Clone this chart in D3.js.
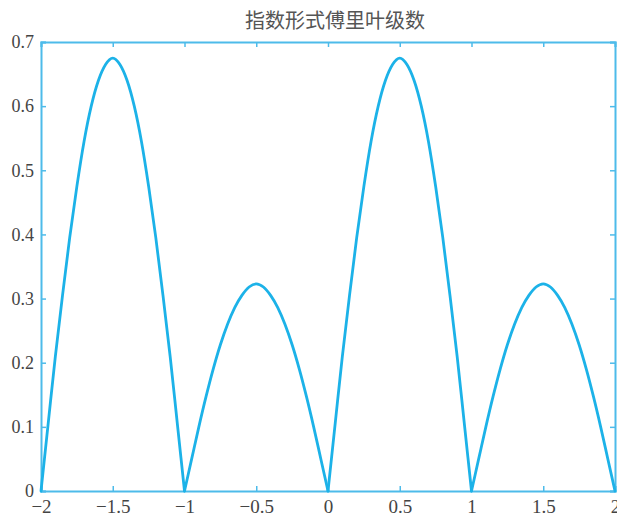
<!DOCTYPE html>
<html>
<head>
<meta charset="utf-8">
<script src="https://cdn.jsdelivr.net/npm/d3@7"></script>
<style>
    body { margin: 0; background: #fff; }
</style>
</head>
<body>
<div id="chart"></div>
<script>
// values, step 0.05
const tValues = [
    -2, -1.95, -1.9, -1.85, -1.8, -1.75, -1.7, -1.65, -1.6, -1.55, -1.5, -1.45, -1.4, -1.35, -1.3, -1.25, -1.2, -1.15, -1.1, -1.05,
    -1, -0.95, -0.9, -0.85, -0.8, -0.75, -0.7, -0.65, -0.6, -0.55, -0.5, -0.45, -0.4, -0.35, -0.3, -0.25, -0.2, -0.15, -0.1, -0.05,
    0, 0.05, 0.1, 0.15, 0.2, 0.25, 0.3, 0.35, 0.4, 0.45, 0.5, 0.55, 0.6, 0.65, 0.7, 0.75, 0.8, 0.85, 0.9, 0.95,
    1, 1.05, 1.1, 1.15, 1.2, 1.25, 1.3, 1.35, 1.4, 1.45, 1.5, 1.55, 1.6, 1.65, 1.7, 1.75, 1.8, 1.85, 1.9, 1.95, 2
];
const ampValues = [
    0, 0.105, 0.21, 0.305, 0.395, 0.475, 0.545, 0.6, 0.64, 0.665, 0.675, 0.665, 0.64, 0.6, 0.545, 0.475, 0.395, 0.305, 0.21, 0.105,
    0, 0.05, 0.1, 0.147, 0.19, 0.228, 0.26, 0.286, 0.305, 0.318, 0.323, 0.318, 0.305, 0.286, 0.26, 0.228, 0.19, 0.147, 0.1, 0.05,
    0, 0.105, 0.21, 0.305, 0.395, 0.475, 0.545, 0.6, 0.64, 0.665, 0.675, 0.665, 0.64, 0.6, 0.545, 0.475, 0.395, 0.305, 0.21, 0.105,
    0, 0.05, 0.1, 0.147, 0.19, 0.228, 0.26, 0.286, 0.305, 0.318, 0.323, 0.318, 0.305, 0.286, 0.26, 0.228, 0.19, 0.147, 0.1, 0.05, 0
];
const xTicks = [-2, -1.5, -1, -0.5, 0, 0.5, 1, 1.5, 2];
const yTicks = [0, 0.1, 0.2, 0.3, 0.4, 0.5, 0.6, 0.7];
const title = "指数形式傅里叶级数";

let margin = {top: 42, right: 2, bottom: 27, left: 41};
let width = 617 - margin.left - margin.right;
let height = 518 - margin.top - margin.bottom;
let lineColor = "#1cb2e8";
let axisColor = "#4dbbea";
let serif = "'Liberation Serif', 'DejaVu Serif', serif";

let svg = d3.select("#chart").append("svg")
    .attr("width", 617)
    .attr("height", 518)
    .append("g")
    .attr("transform", "translate(" + margin.left + "," + margin.top + ")");

let x = d3.scaleLinear().domain([-2, 2]).range([0, width]);
let y = d3.scaleLinear().domain([0, 0.7]).range([height, 0]);

let fmt = d => d3.format("")(d);

// axes, ticks pointing inward
svg.append("g")
    .attr("class", "x-axis axis")
    .attr("transform", "translate(0," + height + ")")
    .call(d3.axisBottom(x).tickValues(xTicks).tickSize(-5).tickPadding(9).tickFormat(fmt));
svg.append("g")
    .attr("class", "x-axis-top axis")
    .call(d3.axisTop(x).tickValues(xTicks).tickSize(-5).tickFormat(""));
svg.append("g")
    .attr("class", "y-axis axis")
    .call(d3.axisLeft(y).tickValues(yTicks).tickSize(-5).tickPadding(7).tickFormat(fmt));
svg.append("g")
    .attr("class", "y-axis-right axis")
    .attr("transform", "translate(" + width + ",0)")
    .call(d3.axisRight(y).tickValues(yTicks).tickSize(-5).tickFormat(""));

svg.selectAll(".axis").attr("font-family", null);
svg.selectAll(".axis path").attr("stroke", axisColor).attr("stroke-width", 2);
svg.selectAll(".axis line").attr("stroke", axisColor).attr("stroke-width", 1.5);
svg.selectAll(".axis text")
    .attr("fill", "#444")
    .style("font-family", serif);
svg.selectAll(".x-axis text").style("font-size", "19px");
svg.selectAll(".y-axis text").style("font-size", "18px");

// split the samples into arches so the cusps at the zeros stay sharp
let points = tValues.map((t, i) => ({t: t, v: ampValues[i]}));
let arches = [];
let cur = [];
points.forEach((p, i) => {
    cur.push(p);
    if (p.v === 0 && i > 0) {
        arches.push(cur);
        cur = [p];
    }
});

let line = d3.line()
    .x(d => x(d.t))
    .y(d => y(d.v))
    .curve(d3.curveMonotoneX);

svg.selectAll(".arch")
    .data(arches)
    .enter().append("path")
    .attr("class", "arch")
    .attr("fill", "none")
    .attr("stroke", lineColor)
    .attr("stroke-width", 2.8)
    .attr("stroke-linejoin", "round")
    .attr("stroke-linecap", "round")
    .attr("d", line);

svg.append("text")
    .attr("x", width / 2 + 7)
    .attr("y", -14)
    .attr("text-anchor", "middle")
    .attr("fill", "#555")
    .style("font-family", "'Noto Sans CJK SC', sans-serif")
    .style("font-size", "20px")
    .text(title);
</script>
</body>
</html>
